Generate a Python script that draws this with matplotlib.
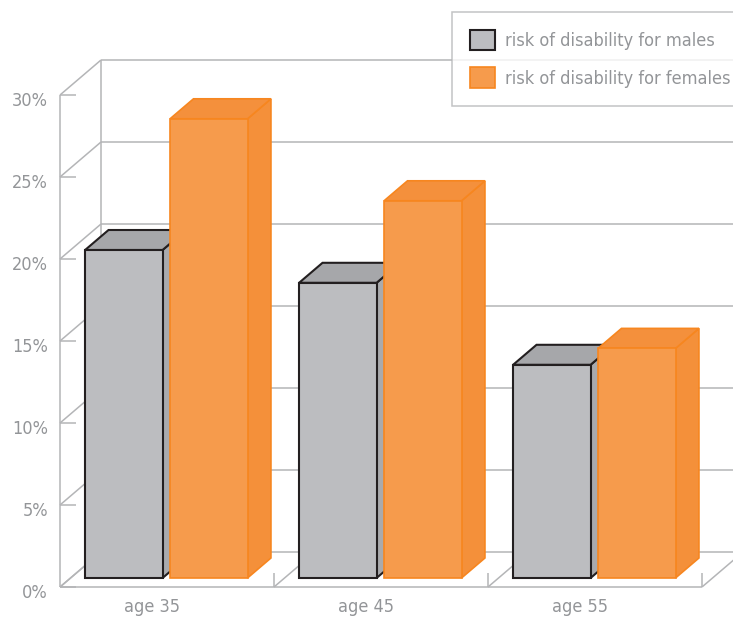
import matplotlib.pyplot as plt
from matplotlib.patches import Polygon, Patch

plt.rcParams['font.family'] = ['DejaVu Sans']
plt.rcParams['font.stretch'] = 'condensed'

# data
categories = ['age 35', 'age 45', 'age 55']
males = [20, 18, 13]
females = [28, 23, 14]
series_names = ['risk of disability for males', 'risk of disability for females']
yticks = [0, 5, 10, 15, 20, 25, 30]

# style
GRID = '#b4b5b7'
TXT = '#939598'
FS = 13
MALE = dict(front='#bcbdc0', side='#a9aaad', top='#a6a7aa', edge='#231f20', lw=1.5)
FEMALE = dict(front='#f69b4c', side='#f4903a', top='#f4903c', edge='#f7861f', lw=1.2)

# oblique projection (x in category units, y in percent)
DX, DY = 41 / 214, 35 / 16.4
F0, F1 = 9 / 35, 29 / 35
BAR_W = 0.362
M_OFF, F_OFF = 0.068, 0.465

fig = plt.figure(figsize=(7.33, 6.19), dpi=100)
ax = fig.add_axes([0, 0, 1, 1])
ax.set_xlim(-60 / 214, 673 / 214)
ax.set_ylim(-32 / 16.4, 587 / 16.4)
ax.axis('off')

n = len(categories)
ymax = yticks[-1]
gkw = dict(color=GRID, lw=1.1, zorder=1, solid_capstyle='butt')

# back wall gridlines + left wall diagonals + front ticks
for t in yticks:
    ax.plot([DX, n + DX + 0.2], [t + DY, t + DY], **gkw)
    ax.plot([0, DX], [t, t + DY], **gkw)
    ax.plot([0, 16 / 214], [t, t], **gkw)
    ax.text(-12 / 214, t - 0.35, f'{t}%', ha='right', va='center',
            fontsize=FS, color=TXT)
ax.plot([0, 0], [0, ymax], **gkw)
ax.plot([DX, DX], [DY, ymax + DY], **gkw)

# floor
ax.plot([0, n], [0, 0], **gkw)
for i in range(n + 1):
    ax.plot([i, i + DX], [0, DY], **gkw)
    if i > 0:
        ax.plot([i, i], [0, 14 / 16.4], **gkw)


def draw_bar(x0, h, st):
    ox, oy = F0 * DX, F0 * DY
    bx, by = (F1 - F0) * DX, (F1 - F0) * DY
    xl, xr = x0 + ox, x0 + ox + BAR_W
    front = [(xl, oy), (xr, oy), (xr, oy + h), (xl, oy + h)]
    side = [(xr, oy), (xr + bx, oy + by), (xr + bx, oy + by + h), (xr, oy + h)]
    top = [(xl, oy + h), (xr, oy + h), (xr + bx, oy + h + by), (xl + bx, oy + h + by)]
    for pts, fc in [(side, st['side']), (top, st['top']), (front, st['front'])]:
        ax.add_patch(Polygon(pts, closed=True, facecolor=fc, edgecolor=st['edge'],
                             lw=st['lw'], joinstyle='miter', zorder=3))


for i in range(n):
    draw_bar(i + M_OFF, males[i], MALE)
    draw_bar(i + F_OFF, females[i], FEMALE)
    ax.text(i + 0.43, -1.22, categories[i], ha='center', va='center',
            fontsize=FS, color=TXT)

handles = [Patch(facecolor=MALE['front'], edgecolor=MALE['edge'], lw=1.5),
           Patch(facecolor=FEMALE['front'], edgecolor=FEMALE['edge'], lw=1.2)]
leg = ax.legend(handles, series_names, loc='upper left',
                bbox_to_anchor=(452 / 733, 1 - 12 / 619), bbox_transform=fig.transFigure,
                fontsize=FS, frameon=True, fancybox=False, borderpad=0.97,
                handlelength=1.39, handleheight=1.39, handletextpad=0.55,
                labelspacing=0.95, borderaxespad=0)
leg.get_frame().set_edgecolor(GRID)
leg.get_frame().set_linewidth(1.1)
for t in leg.get_texts():
    t.set_color(TXT)

fig.savefig('out.png', dpi=100)
